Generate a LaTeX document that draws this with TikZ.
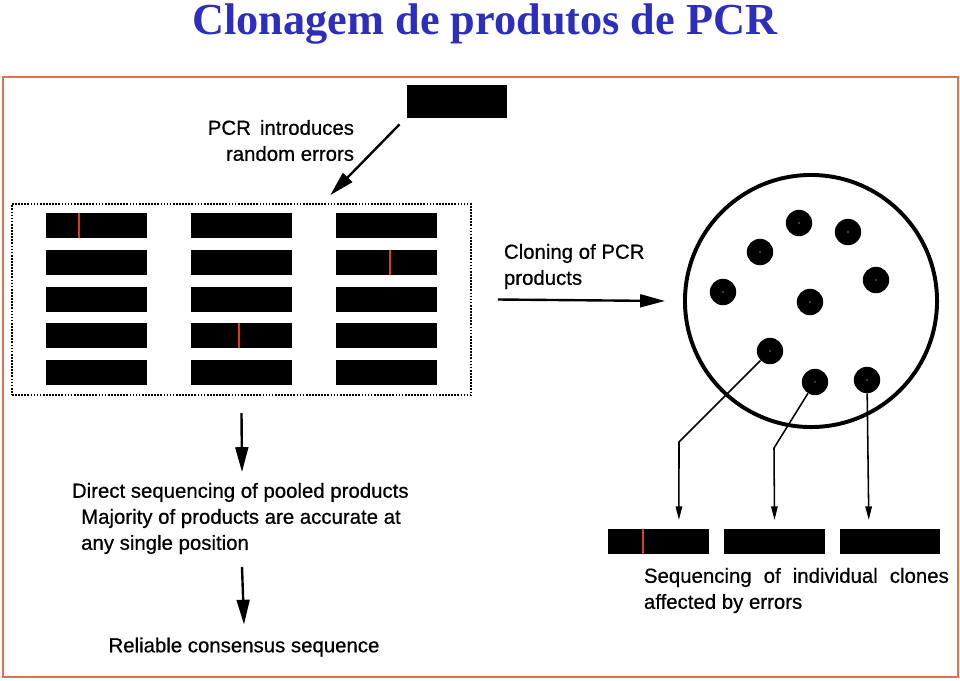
\documentclass[tikz,border=0pt]{standalone}
\usepackage{fontspec}
\setmainfont{Liberation Sans}[FakeBold=0.6]
\newfontfamily\titlefont{Liberation Serif}
\usetikzlibrary{arrows.meta,positioning}
\definecolor{titleblue}{RGB}{45,45,190}
\definecolor{framered}{RGB}{224,112,80}
\definecolor{errred}{RGB}{215,60,30}

\begin{document}
\begin{tikzpicture}[x=0.025cm,y=-0.025cm,
	every node/.style={font=\fontsize{14.5}{18.5}\selectfont},
	bar/.style={fill=black, inner sep=0, minimum width=2.52cm, minimum height=0.62cm},
	colony/.style={circle, fill=black, inner sep=0, minimum size=0.66cm,
		path picture={\fill[white] (path picture bounding box.center) circle (0.5pt);}},
	flow/.style={line width=1.7pt, -{Triangle[length=0.62cm,width=0.32cm]}},
	pick/.style={line width=1.1pt, -{Triangle[length=0.34cm,width=0.16cm]}},
	error/.style={errred, line width=1.3pt}]
	% page and frame
	\useasboundingbox[fill=white] (0,0) rectangle (960,680);
	\node (title) [inner sep=0] at (485,24.5) {\titlefont\bfseries\fontsize{31.5}{36}\selectfont\color{titleblue}Clonagem de produtos de PCR};
	\draw[framered, line width=1.3pt] (3,77) rectangle (958,677);

	% template and pool of PCR products
	\node (tmpl) [bar, minimum width=2.5cm, minimum height=0.83cm] at (457,101.5) {};
	\node (errtxt) [anchor=east, align=right] at (359,140.5) {PCR \,introduces\\random errors};
	\node (pool) [draw, densely dotted, line width=1.2pt, minimum width=11.475cm, minimum height=4.775cm] at (241.5,299.5) {};
	\foreach \c/\x in {1/96.5,2/241.5,3/386.5}
		\foreach \r/\y in {1/225.5,2/262.5,3/299.5,4/335.5,5/372.5}
			\node (b\c\r) [bar] at (\x,\y) {};
	\draw[error] ([xshift=-0.43cm]b11.north) -- ([xshift=-0.43cm]b11.south);
	\draw[error] ([xshift=0.09cm]b32.north) -- ([xshift=0.09cm]b32.south);
	\draw[error] ([xshift=-0.06cm]b24.north) -- ([xshift=-0.06cm]b24.south);

	% direct sequencing
	\node (direct) [anchor=north west, align=left] at (67,478) {Direct sequencing of pooled products\\\hspace*{0.23cm}Majority of products are accurate at\\\hspace*{0.23cm}any single position};
	\node (consensus) at (244,647) {Reliable consensus sequence};

	% cloning
	\node (cloning) [anchor=west, align=left] at (499,266.5) {Cloning of PCR\\products};
	\node (dish) [circle, draw, line width=2.8pt, minimum size=6.3cm] at (811,301) {};
	\node (k1) [colony] at (799,223) {};
	\node (k2) [colony] at (848,232) {};
	\node (k3) [colony] at (760,252) {};
	\node (k4) [colony] at (876,280) {};
	\node (k5) [colony] at (723,292) {};
	\node (k6) [colony] at (810,302) {};
	\node (k7) [colony] at (770,351) {};
	\node (k8) [colony] at (815,382) {};
	\node (k9) [colony] at (867,380) {};

	% sequencing of clones
	\node (s1) [bar] at (658.5,541.5) {};
	\node (s2) [bar] at (774.5,541.5) {};
	\node (s3) [bar] at (890,541.5) {};
	\draw[error] ([xshift=-0.39cm]s1.north) -- ([xshift=-0.39cm]s1.south);
	\node (clones) [anchor=west, align=left] at (639,590.5) {\makebox[7.62cm][s]{Sequencing of individual clones}\\affected by errors};

	% connect the nodes
	\draw[flow] ([shift={(-0.18cm,-0.15cm)}]tmpl.south west) -- ([shift={(2.22cm,0.2cm)}]pool.north);
	\draw[flow] ([xshift=0.65cm]pool.east) -- ([xshift=-0.45cm]dish.west);
	\draw[flow] ([yshift=-0.43cm]pool.south) -- (242,472);
	\draw[flow] (242,567) -- ([yshift=0.2cm]consensus.north);
	\draw[pick] (k7) -- (679,442) -- ([shift={(0.51cm,0.22cm)}]s1.north);
	\draw[pick] (k8) -- (774,448) -- ([yshift=0.22cm]s2.north);
	\draw[pick] (k9) -- ([shift={(-0.53cm,0.22cm)}]s3.north);
\end{tikzpicture}
\end{document}
